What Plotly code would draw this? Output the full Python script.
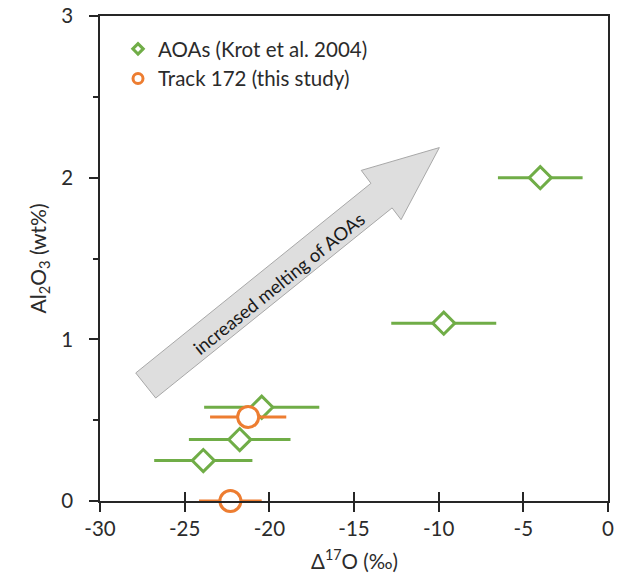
import plotly.graph_objects as go

# ---- data ----
aoa_x = [-4.0, -9.7, -20.45, -21.75, -23.9]
aoa_y = [2.0, 1.1, 0.58, 0.38, 0.25]
aoa_err = [2.5, 3.1, 3.4, 3.0, 2.9]

track_x = [-21.25, -22.3]
track_y = [0.52, 0.0]
track_err = [2.25, 1.85]

x_ticks = [-30, -25, -20, -15, -10, -5, 0]
y_ticks = [0, 1, 2, 3]

arrow_x = [-27.89, -26.71, -12.75, -12.22, -9.96, -14.57, -14.0, -27.89]
arrow_y = [0.792, 0.637, 1.813, 1.740, 2.186, 2.045, 1.965, 0.792]
arrow_label = "increased melting of AOAs"
arrow_label_x = -19.41
arrow_label_y = 1.348

x_title = "Δ<sup>17</sup>O (‰)"
y_title = "Al<sub>2</sub>O<sub>3</sub> (wt%)"

GREEN = "#70AD47"
ORANGE = "#ED7D31"
AXC = "#262626"
TXT = "#2B2B2B"
FONT = "Lato"
FS = 20.5

fig = go.Figure()

# arrow
fig.add_trace(go.Scatter(
    x=arrow_x, y=arrow_y, mode="lines", fill="toself",
    fillcolor="#DEDEDE", line=dict(color="#A8A8A8", width=1),
    showlegend=False, hoverinfo="skip"))

fig.add_trace(go.Scatter(
    x=aoa_x, y=aoa_y, mode="markers", showlegend=False,
    marker=dict(symbol="diamond", size=17, color="white",
                line=dict(color=GREEN, width=3)),
    error_x=dict(type="data", array=aoa_err, color=GREEN, thickness=3, width=0)))

fig.add_trace(go.Scatter(
    x=track_x, y=track_y, mode="markers", showlegend=False, cliponaxis=False,
    marker=dict(symbol="circle", size=21, color="white",
                line=dict(color=ORANGE, width=3)),
    error_x=dict(type="data", array=track_err, color=ORANGE, thickness=3, width=0)))

# legend entries
fig.add_trace(go.Scatter(
    x=[None], y=[None], mode="markers", name="AOAs (Krot et al. 2004)",
    marker=dict(symbol="diamond", size=8, color="white",
                line=dict(color=GREEN, width=3))))
fig.add_trace(go.Scatter(
    x=[None], y=[None], mode="markers", name="Track 172 (this study)",
    marker=dict(symbol="circle", size=10, color="white",
                line=dict(color=ORANGE, width=3))))

# invisible trace for inside-tick overlay axis
fig.add_trace(go.Scatter(x=[None], y=[None], xaxis="x2", showlegend=False,
                         hoverinfo="skip"))

fig.add_annotation(
    x=arrow_label_x, y=arrow_label_y, xref="x", yref="y",
    text=arrow_label, showarrow=False, textangle=-38.9,
    font=dict(family=FONT, size=18.4, color="#1A1A1A"))

# axis titles
fig.add_annotation(
    x=(38 - 100) / 508, y=0.5, xref="paper", yref="paper",
    text=y_title, showarrow=False, textangle=-90,
    xanchor="center", yanchor="middle",
    font=dict(family=FONT, size=FS + 0.5, color=TXT))
fig.add_annotation(
    x=0.5, y=(501 - 559) / 485, xref="paper", yref="paper",
    text=x_title, showarrow=False,
    xanchor="center", yanchor="middle",
    font=dict(family=FONT, size=FS, color=TXT))

fig.update_layout(
    width=624, height=575,
    margin=dict(l=100, r=16, t=16, b=74, autoexpand=False),
    paper_bgcolor="white", plot_bgcolor="white",
    font=dict(family=FONT, size=FS, color=TXT),
    showlegend=True,
    legend=dict(x=18 / 508, y=(501 - 29) / 485, xref="paper", yref="paper",
                xanchor="left", yanchor="top",
                font=dict(family=FONT, size=FS, color=TXT),
                bgcolor="rgba(0,0,0,0)", itemwidth=30, tracegroupgap=0),
    xaxis=dict(
        range=[-30, 0], tickvals=x_ticks, ticktext=[str(v) for v in x_ticks],
        showgrid=False, zeroline=False, automargin=False, tickangle=0,
        showline=True, linecolor=AXC, linewidth=1.5, mirror=True,
        ticks="outside", ticklen=9, tickwidth=1.5, tickcolor=AXC,
        tickfont=dict(family=FONT, size=FS, color=TXT),
    ),
    xaxis2=dict(
        range=[-30, 0], tickvals=x_ticks, overlaying="x", anchor="y", side="bottom",
        showgrid=False, zeroline=False, showline=False, showticklabels=False,
        automargin=False,
        ticks="inside", ticklen=9, tickwidth=1.5, tickcolor=AXC,
    ),
    yaxis=dict(
        range=[0, 3], tickvals=y_ticks, ticktext=[str(v) for v in y_ticks],
        showgrid=False, zeroline=False, automargin=False,
        showline=True, linecolor=AXC, linewidth=1.5, mirror=True,
        ticks="outside", ticklen=9, tickwidth=1.5, tickcolor=AXC,
        minor=dict(dtick=0.5, ticks="outside", ticklen=5, tickwidth=1.5, tickcolor=AXC),
        ticklabelstandoff=12,
        tickfont=dict(family=FONT, size=FS, color=TXT),
    ),
)

fig.write_html("out.html")
